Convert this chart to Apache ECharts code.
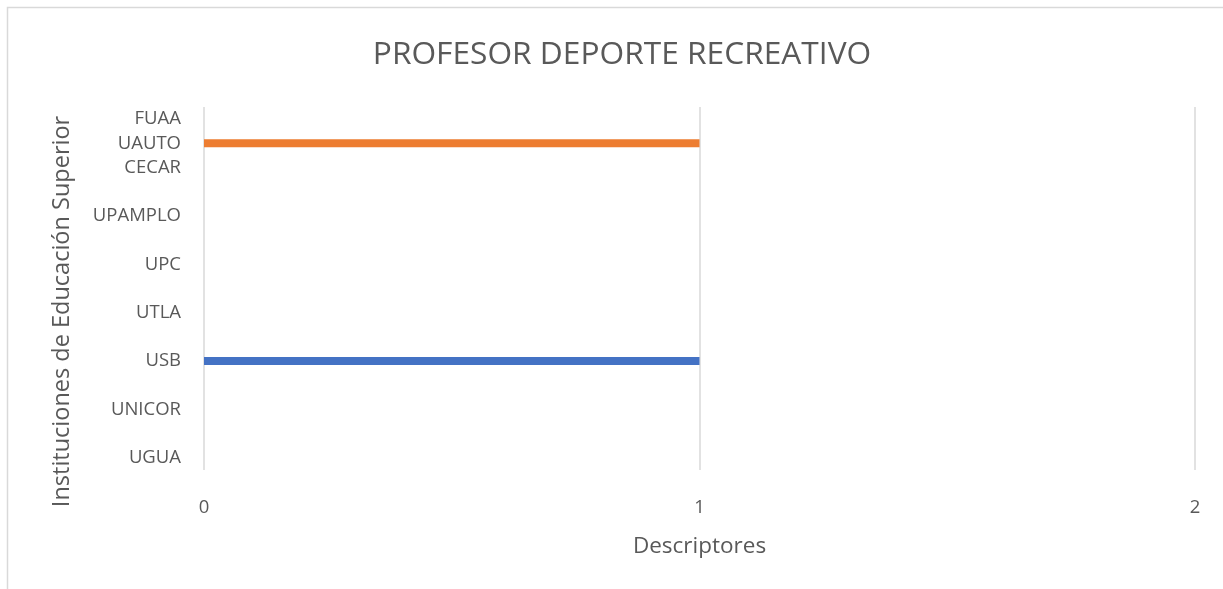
<!DOCTYPE html>
<html>
<head>
<meta charset="utf-8">
<script src="https://cdn.jsdelivr.net/npm/echarts@6/dist/echarts.min.js"></script>
<style>
html,body{margin:0;padding:0;background:#fff;}
#c{width:1223px;height:589px;}
</style>
</head>
<body>
<div id="c"></div>
<script>
// Categories bottom-to-top; blank entries are empty slots on the axis
const categories = ["UGUA", "", "UNICOR", "", "USB", "", "UTLA", "", "UPC", "", "UPAMPLO", "", "CECAR", "UAUTO", "FUAA"];
const blueValues   = [null, null, null, null, 1, null, null, null, null, null, null, null, null, null, null];
const orangeValues = [null, null, null, null, null, null, null, null, null, null, null, null, null, 1, null];
const xTicks = [0, 1, 2];

const FONT = "'Open Sans', 'Liberation Sans', sans-serif";
const chart = echarts.init(document.getElementById('c'), null, {renderer: 'canvas'});
chart.setOption({
  animation: false,
  backgroundColor: '#fff',
  graphic: [{
    type: 'rect', silent: true, z: -1,
    shape: {x: 7.5, y: 7.5, width: 1400, height: 800},
    style: {fill: 'none', stroke: '#d9d9d9', lineWidth: 1.5}
  }],
  title: {
    text: 'PROFESOR DEPORTE RECREATIVO',
    left: 617, top: 34, textAlign: 'center',
    textStyle: {fontFamily: FONT, fontSize: 31.7, fontWeight: 'normal', color: '#595959'}
  },
  grid: {left: 204, right: 28, top: 107, bottom: 119, containLabel: false},
  xAxis: {
    type: 'value', min: xTicks[0], max: xTicks[xTicks.length - 1], interval: 1,
    name: 'Descriptores', nameLocation: 'middle', nameGap: 65,
    nameTextStyle: {fontFamily: FONT, fontSize: 22.5, color: '#595959'},
    axisLine: {show: false}, axisTick: {show: false},
    axisLabel: {fontFamily: FONT, fontSize: 18.5, color: '#595959', margin: 28},
    splitLine: {show: true, lineStyle: {color: '#d9d9d9', width: 1.5}}
  },
  yAxis: {
    type: 'category', data: categories,
    name: 'Instituciones de Educación Superior', nameLocation: 'middle', nameGap: 130,
    nameTextStyle: {fontFamily: FONT, fontSize: 23.5, color: '#595959', padding: [0, 46, 0, 0]},
    axisLine: {show: false}, axisTick: {show: false},
    axisLabel: {interval: 0, fontFamily: FONT, fontSize: 18.5, color: '#595959', margin: 23, padding: [5, 0, 0, 0]},
    splitLine: {show: false}
  },
  series: [
    {type: 'bar', data: blueValues, barWidth: 8, barGap: '-100%', itemStyle: {color: '#4472c4'}},
    {type: 'bar', data: orangeValues, barWidth: 8, barGap: '-100%', itemStyle: {color: '#ed7d31'}}
  ]
});
</script>
</body>
</html>
